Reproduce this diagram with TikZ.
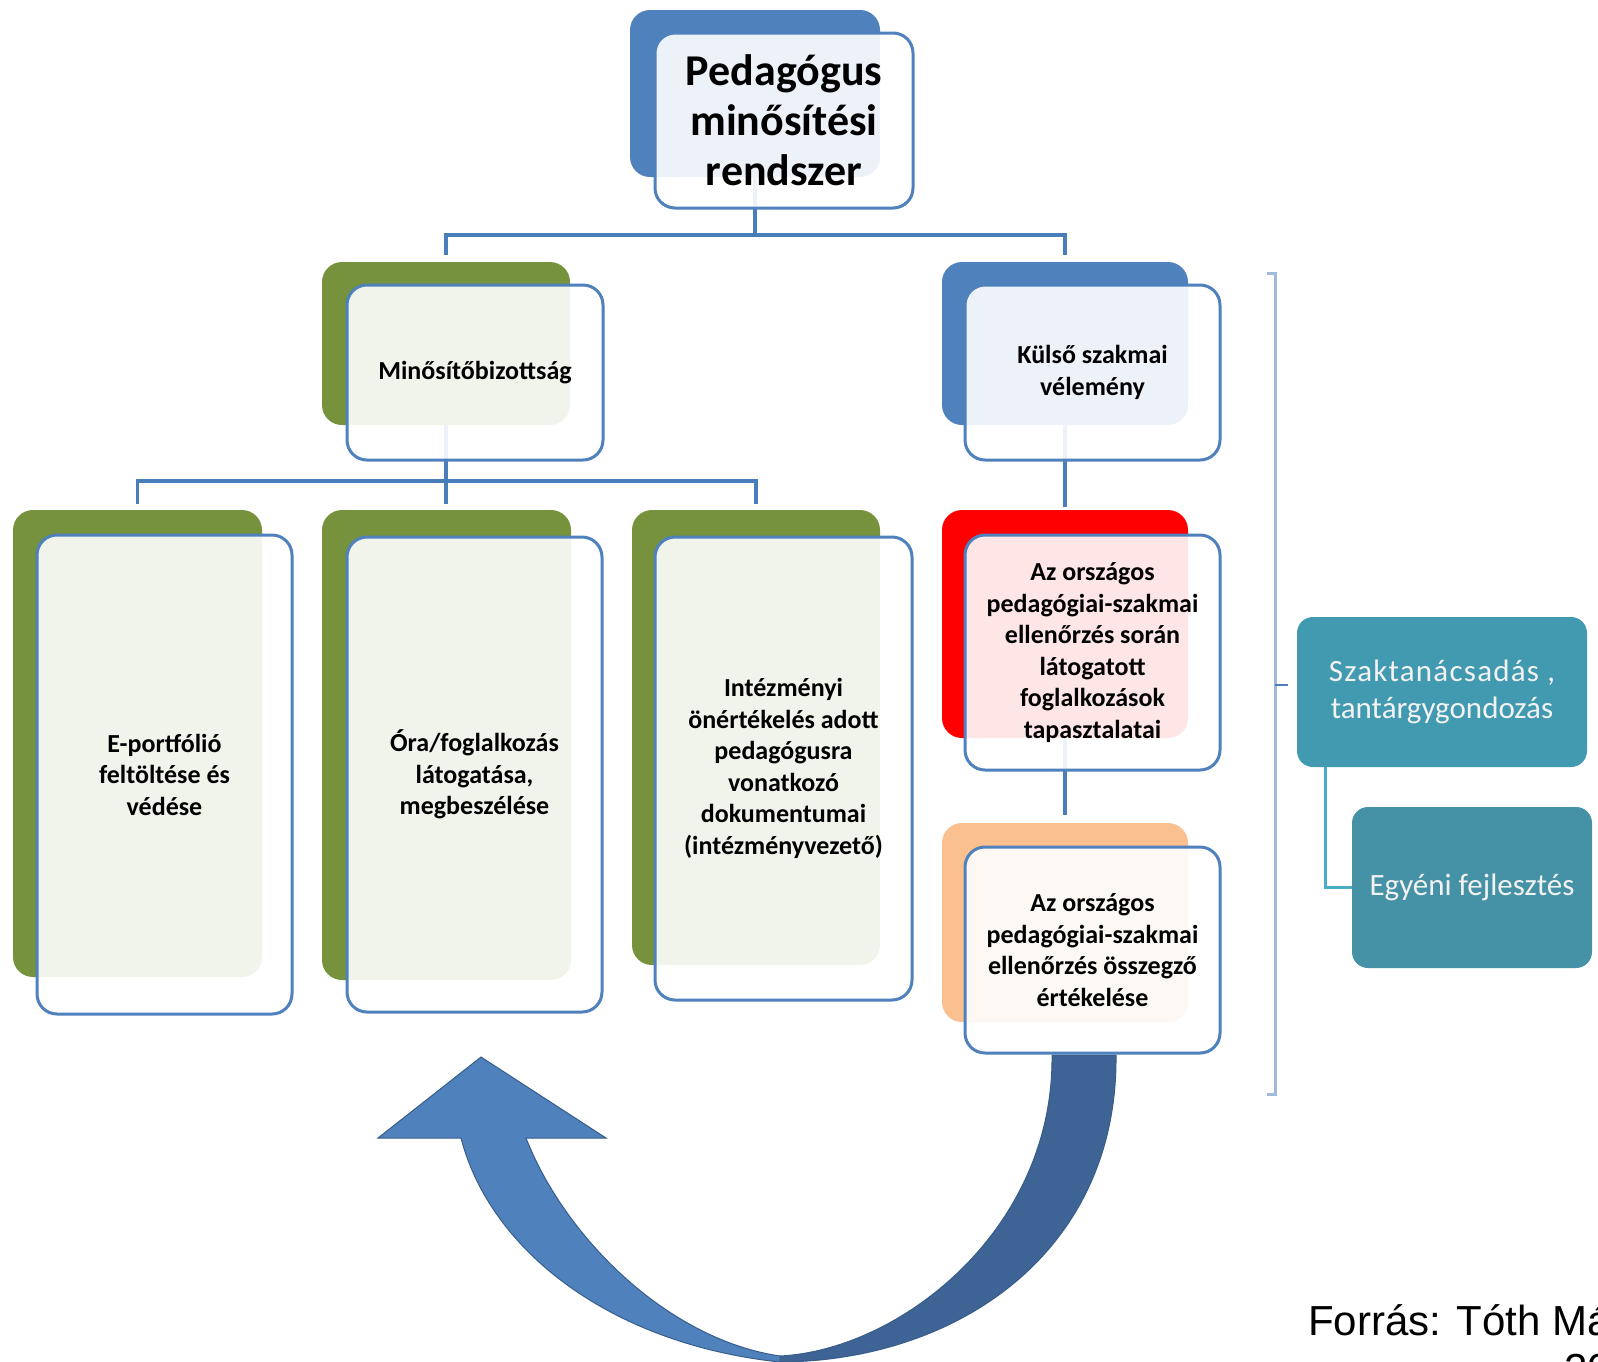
\documentclass[tikz,border=0pt]{standalone}
\usepackage{fontspec}
\setmainfont{Carlito}
\newfontfamily\arialf{Liberation Sans}
\usetikzlibrary{calc}
\definecolor{cgreen}{RGB}{118,146,60}
\definecolor{cblue}{RGB}{79,129,189}
\definecolor{cred}{RGB}{255,0,0}
\definecolor{cpeach}{RGB}{250,192,144}
\definecolor{cline}{RGB}{74,126,187}
\definecolor{cteal}{RGB}{66,154,177}
\definecolor{cteald}{RGB}{69,145,165}
\definecolor{ctealline}{RGB}{75,172,198}
\definecolor{cbracket}{RGB}{160,186,220}
\definecolor{carrowl}{RGB}{79,129,189}
\definecolor{carrowd}{RGB}{62,100,150}
\definecolor{carrowo}{RGB}{56,93,138}
\begin{document}
\begin{tikzpicture}[x=1pt,y=-1pt,
  backbox/.style={rounded corners=20pt, inner sep=0pt, draw=none},
  frontbox/.style={rounded corners=20pt, inner sep=2pt, draw=cblue, line width=3pt,
    fill=white, fill opacity=0.9, text opacity=1, align=center,
    font=\fontsize{26}{31.5}\selectfont\bfseries},
  conn/.style={draw=cline, line width=3.2pt},
  tealbox/.style={rounded corners=16pt, inner sep=2pt, align=center, text=white!95!black,
    font=\fontsize{31}{37}\selectfont},
  tealconn/.style={draw=ctealline, line width=3pt},
  bracketline/.style={draw=cbracket, line width=3pt},
  arrowpart/.style={draw=carrowo, line width=1pt}
]
\useasboundingbox (0,0) rectangle (1598,1361);
\clip (0,0) rectangle (1598,1361);
\fill[white] (0,0) rectangle (1598,1361);

% back boxes
\node[backbox, fill=cblue,  minimum width=250pt, minimum height=167pt] (b0) at (755,93.5) {};
\node[backbox, fill=cgreen, minimum width=248pt, minimum height=163pt] (bM) at (446,343.5) {};
\node[backbox, fill=cblue,  minimum width=246pt, minimum height=163pt] (bK) at (1065,343.5) {};
\node[backbox, fill=cgreen, minimum width=249pt, minimum height=467pt] (bE) at (137.5,743.5) {};
\node[backbox, fill=cgreen, minimum width=249pt, minimum height=470pt] (bO) at (446.5,745) {};
\node[backbox, fill=cgreen, minimum width=248pt, minimum height=455pt] (bI) at (756,737.5) {};
\node[backbox, fill=cred,   minimum width=246pt, minimum height=228pt] (bR) at (1065,624) {};
\node[backbox, fill=cpeach, minimum width=246pt, minimum height=199pt] (bP) at (1065,922.5) {};

% connectors
\coordinate (bus1) at (0,235);
\coordinate (bus2) at (0,481);
\draw[conn] (b0.south) -- (b0.south |- bus1);
\draw[conn] ($(bM.north)+(0,-7)$) -- (bM.north |- bus1) -- (bK.north |- bus1) -- ($(bK.north)+(0,-7)$);
\draw[conn] (bM.south) -- ($(bM.south |- bO.north)+(0,-6)$);
\draw[conn] ($(bE.north)+(0,-6)$) -- (bE.north |- bus2) -- (bI.north |- bus2) -- ($(bI.north)+(0,-6)$);
\draw[conn] (bK.south) -- ($(bK.south |- bR.north)+(0,-3)$);
\draw[conn] (bR.south) -- ($(bR.south |- bP.north)+(0,-8)$);

% curved arrow
\path[arrowpart, fill=carrowd] (1052,1055) -- (1116,1055)
  .. controls (1118,1250) and (960,1361) .. (780,1362)
  -- (780,1356)
  .. controls (900,1350) and (1054,1230) .. (1052,1055) -- cycle;
\path[arrowpart, fill=carrowl] (780,1362)
  .. controls (610,1344) and (490,1250) .. (461,1138)
  -- (378,1138) -- (481,1057) -- (606,1138) -- (526,1138)
  .. controls (566,1240) and (670,1340) .. (780,1356) -- cycle;

% front boxes
\node[frontbox, minimum width=258pt, minimum height=175pt,
  font=\fontsize{44}{50}\selectfont\bfseries] (f0) at (784,120.5)
  {Pedagógus\\minősítési\\rendszer};
\node[frontbox, minimum width=256pt, minimum height=175pt] (fM) at (475,372.5) {Minősítőbizottság};
\node[frontbox, minimum width=255pt, minimum height=175pt] (fK) at (1092.5,372.5) {Külső szakmai\\vélemény};
\node[frontbox, minimum width=255pt, minimum height=479pt] (fE) at (164.5,774.5) {E-portfólió\\feltöltése és\\védése};
\node[frontbox, minimum width=255pt, minimum height=475pt] (fO) at (474.5,774.5) {Óra/foglalkozás\\látogatása,\\megbeszélése};
\node[frontbox, minimum width=257pt, minimum height=463pt] (fI) at (783.5,768.5) {Intézményi\\önértékelés adott\\pedagógusra\\vonatkozó\\dokumentumai\\(intézményvezető)};
\node[frontbox, minimum width=255pt, minimum height=235pt] (fR) at (1092.5,652.5) {Az országos\\pedagógiai-szakmai\\ellenőrzés során\\látogatott\\foglalkozások\\tapasztalatai};
\node[frontbox, minimum width=255pt, minimum height=206pt] (fP) at (1092.5,950) {Az országos\\pedagógiai-szakmai\\ellenőrzés összegző\\értékelése};

% bracket
\draw[bracketline] (1267,273) -- (1275,273) -- (1275,1094) -- (1267,1094);
\draw[draw=cline, line width=2pt] (1275,685) -- (1288,685);

% teal boxes
\node[tealbox, fill=cteal, minimum width=290pt, minimum height=150pt] (S) at (1442,692) {{\addfontfeatures{LetterSpace=4}Szaktanácsadás ,}\\tantárgygondozás};
\node[tealbox, fill=cteald, minimum width=240pt, minimum height=161pt] (Eg) at (1472,887.5) {Egyéni fejlesztés};
\draw[tealconn] ($(S.south west)+(29,0)$) |- (Eg.west);

% source
\node[anchor=base west, inner sep=0pt, font=\arialf\fontsize{42}{48}\selectfont] (src) at (1308,1335) {Forrás: Tóth Má};
\node[anchor=base west, inner sep=0pt, font=\arialf\fontsize{42}{48}\selectfont] (src2) at (1564,1383) {20};
\end{tikzpicture}
\end{document}
